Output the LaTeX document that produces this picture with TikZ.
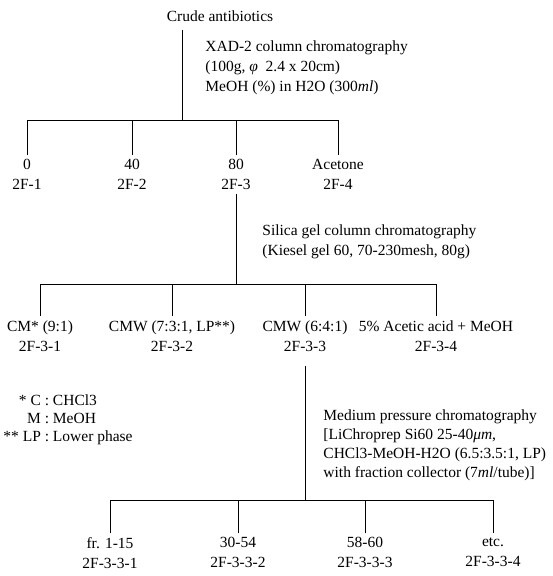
\documentclass[tikz,border=0pt]{standalone}
\usepackage{fontspec}
\setmainfont{Liberation Serif}
\usetikzlibrary{positioning}

\begin{document}
\begin{tikzpicture}[x=1pt, y=-1pt, line width=0.9pt,
    every node/.style={font=\fontsize{15.5}{20}\selectfont},
    frac/.style={anchor=north, align=center, inner sep=4pt},
    note/.style={anchor=north west, align=left, inner sep=0pt}]
  \useasboundingbox (0,0) rectangle (553,576);
  % crude material and XAD-2 step
  \node (crude) at (220,16) {Crude antibiotics};
  \coordinate (top1) at (182,30);
  \coordinate (bus1) at (182,120);
  \draw (top1) -- (bus1);
  \node[note] (xad) at (205,40) {XAD-2 column chromatography\\ (100g, \textit{φ}\ \ 2.4 x 20cm)\\ MeOH (\%) in H2O (300\textit{ml})};
  \foreach \v/\f/\x [count=\i] in {0/2F-1/27, 40/2F-2/132, 80/2F-3/236, Acetone/2F-4/338}
    \node[frac] (a\i) at (\x,155) {\v\\\f};
  \draw (a1.north) -- (a1.north |- bus1) -- (a4.north |- bus1) -- (a4.north);
  \foreach \i in {2,3}
    \draw (a\i.north) -- (a\i.north |- bus1);

  % silica gel step
  \coordinate (bus2) at (236,284);
  \draw (a3.south) -- (a3.south |- bus2);
  \node[note] (silica) at (262,224) {Silica gel column chromatography\\ (Kiesel gel 60, 70-230mesh, 80g)};
  \foreach \v/\f/\x [count=\i] in {CM* (9:1)/2F-3-1/40, {CMW (7:3:1, LP**)}/2F-3-2/172, CMW (6:4:1)/2F-3-3/305, 5\% Acetic acid + MeOH/2F-3-4/436}
    \node[frac] (b\i) at (\x,316) {\v\\\f};
  \draw (b1.north) -- (b1.north |- bus2) -- (b4.north |- bus2) -- (b4.north);
  \foreach \i in {2,3}
    \draw (b\i.north) -- (b\i.north |- bus2);

  % medium pressure step
  \coordinate (bus3) at (304,500);
  \draw ([yshift=-10pt]b3.south) -- (b3.south |- bus3);
  \node[note, font=\fontsize{15.5}{19}\selectfont] (mpc) at (323,409) {Medium pressure chromatography\\ {[}LiChroprep Si60 25-40\textit{μm},\\ CHCl3-MeOH-H2O (6.5:3.5:1, LP)\\ with fraction collector (7\textit{ml}/tube)]};
  \foreach \v/\f/\x [count=\i] in {fr. 1-15/2F-3-3-1/110, 30-54/2F-3-3-2/238, 58-60/2F-3-3-3/365, etc./2F-3-3-4/493}
    \node[frac] (c\i) at (\x,533) {\v\\\f};
  \draw (c1.north) -- (c1.north |- bus3) -- (c4.north |- bus3) -- (c4.north);
  \foreach \i in {2,3}
    \draw (c\i.north) -- (c\i.north |- bus3);

  % solvent key
  \node[note] (key) at (3,392) {\renewcommand{\arraystretch}{0.9}%
    \begin{tabular}{@{}r@{ : }l@{}}* C & CHCl3\\ M & MeOH\\ {*}* LP & Lower phase\end{tabular}};
\end{tikzpicture}
\end{document}
